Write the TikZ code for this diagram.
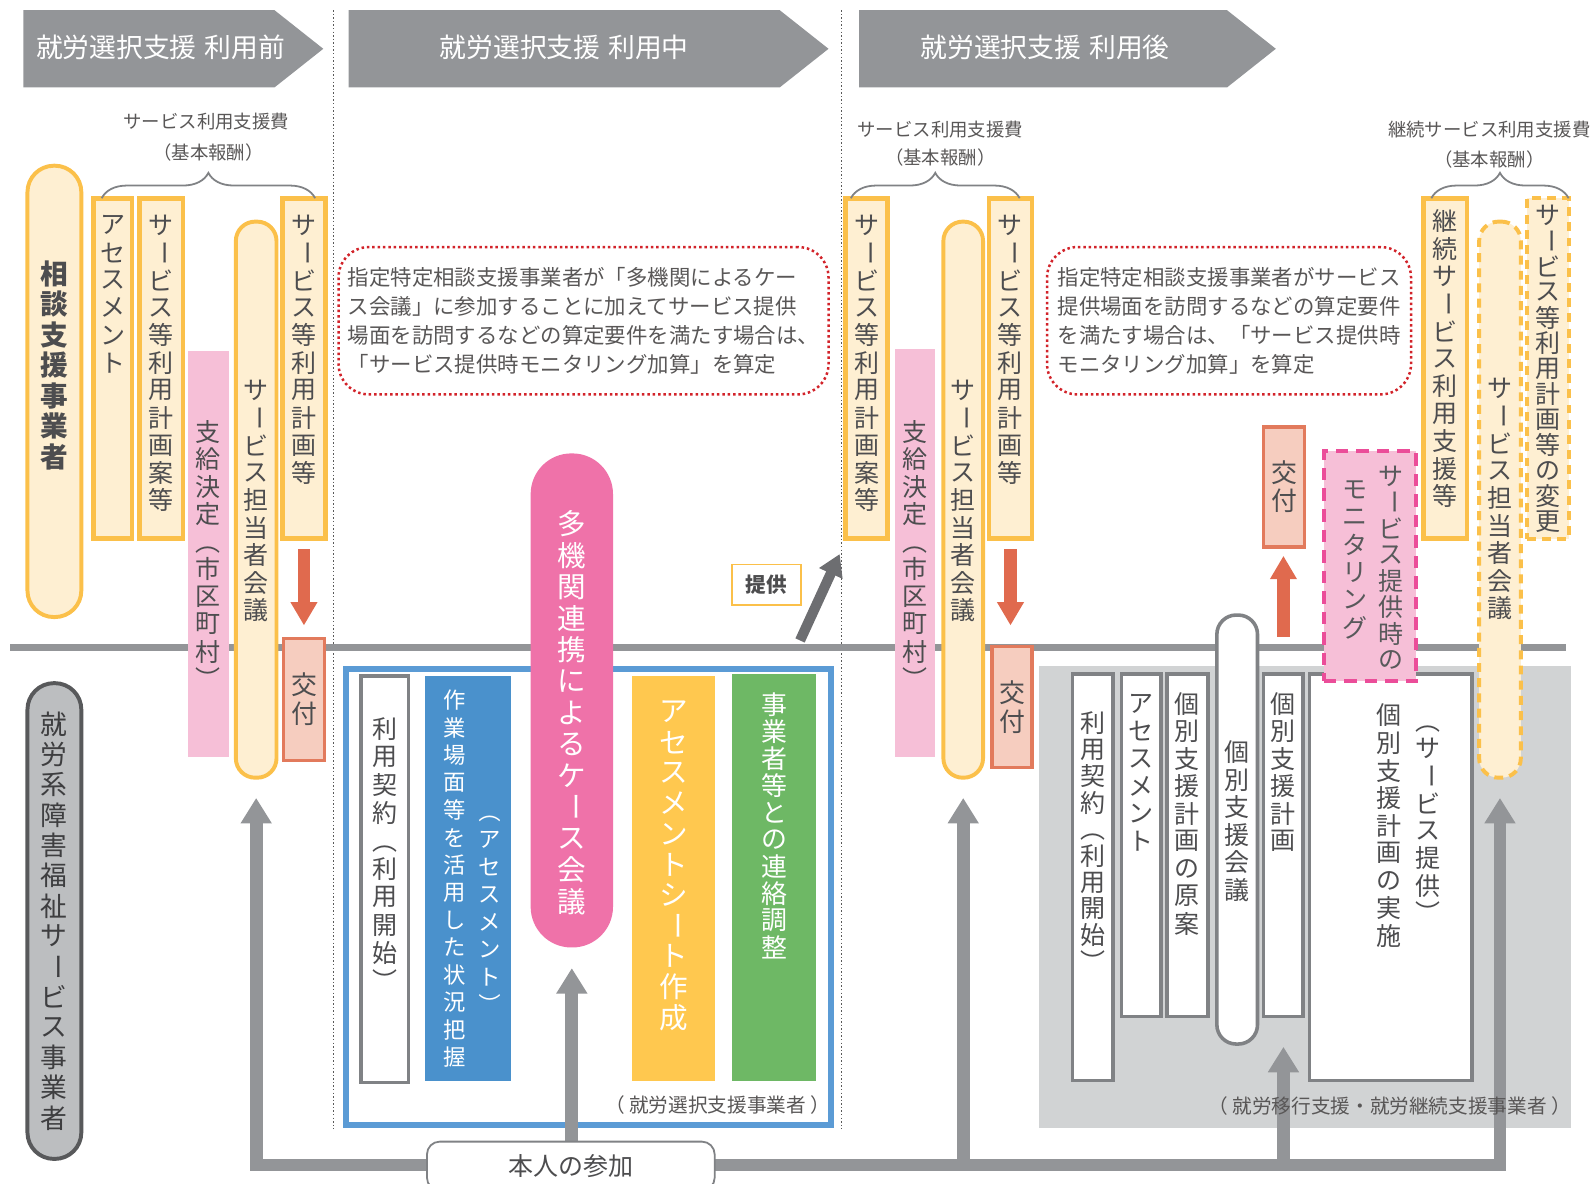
\documentclass[tikz,border=0pt]{standalone}
\usepackage{fontspec}
\setmainfont{Noto Sans CJK JP}
\usepackage{graphicx}
\usepackage{xcolor}
\usepackage{tikz}
\usetikzlibrary{positioning,arrows.meta,decorations.pathreplacing}

\definecolor{hdr}{HTML}{939598}
\definecolor{ylw}{HTML}{FBC04A}
\definecolor{crm}{HTML}{FEEFD2}
\definecolor{pnk}{HTML}{F6BFD7}
\definecolor{redar}{HTML}{E06A4E}
\definecolor{kofuF}{HTML}{F6CDBF}
\definecolor{kofuD}{HTML}{E27A5C}
\definecolor{txt}{HTML}{4D4D4F}
\definecolor{ntxt}{HTML}{595757}
\definecolor{blu}{HTML}{5B9BD5}
\definecolor{bluF}{HTML}{4A91CC}
\definecolor{ylwF}{HTML}{FFC84F}
\definecolor{grn}{HTML}{6EB865}
\definecolor{tak}{HTML}{EF72A9}
\definecolor{mag}{HTML}{EB4D99}
\definecolor{shade}{HTML}{D1D3D4}
\definecolor{gbd}{HTML}{808285}
\definecolor{dred}{HTML}{D2232A}
\definecolor{shuroF}{HTML}{BCBEC0}
\definecolor{shuroD}{HTML}{58595B}
\definecolor{dg}{HTML}{6D6E71}

\tikzset{gtip/.tip={Triangle[width=0.58cm,length=0.5cm]}}

% vertical (tate) text
\newlength\tatep
\newcommand\tate[2][1.1em]{\vbox{\offinterlineskip\setlength\tatep{#1}\tatel#2\relax}}
\def\tatel#1{\ifx\relax#1\else\tatec{#1}\expandafter\tatel\fi}
\def\tatec#1{\hbox to 1em{\hss\vbox to\tatep{\vss\hbox{\tates{#1}}\vss}\hss}}
\def\tates#1{\ifx#1ー\rotatebox[origin=c]{-90}{ー}\else\ifx#1（\rotatebox[origin=c]{-90}{（}\else\ifx#1）\rotatebox[origin=c]{-90}{）}\else#1\fi\fi\fi}

\begin{document}
\begin{tikzpicture}[x=0.02cm,y=-0.02cm,
	sz/.style 2 args={minimum width=#1*0.02cm,minimum height=#2*0.02cm,inner sep=0pt},
	obox/.style={draw=ylw,fill=crm,line width=2.6pt},
	opill/.style={draw=ylw,fill=crm,line width=2.2pt,rounded corners=#1},
	odash/.style={draw=ylw,fill=crm,line width=2.2pt,dash pattern=on 5pt off 3.5pt},
	wbox/.style={draw=gbd,fill=white,line width=2pt},
	kofu/.style={draw=kofuD,fill=kofuF,line width=2pt,text=txt,font=\fontsize{14.5}{16}\selectfont},
	vt/.style={inner sep=0pt,text=txt,font=\fontsize{14}{16}\selectfont},
	vtw/.style={inner sep=0pt,text=white,font=\fontsize{14}{16}\selectfont},
	hdrtxt/.style={inner sep=0pt,text=white,font=\fontsize{15}{16}\selectfont},
	brc/.style={draw=gbd,line width=1pt,decorate,decoration={brace,amplitude=0.5cm}},
	brctxt/.style={inner sep=0pt,text=ntxt,font=\fontsize{10.3}{12}\selectfont},
	dotbox/.style={draw=dred,line width=1.4pt,dash pattern=on 1.4pt off 1.6pt,rounded corners=0.6cm,align=left,text=ntxt,font=\fontsize{12}{16.2}\selectfont},
	redarr/.style={draw=redar,line width=0.24cm,-{Triangle[width=0.5cm,length=0.46cm]}},
	gline/.style={draw=hdr,line width=0.25cm},
	sepline/.style={draw=gray!70!black,line width=0.8pt,dash pattern=on 0.8pt off 1.2pt}]

	\useasboundingbox (0,0) rectangle (1568,1164);

	% stage headers
	\fill[hdr] (23,10) -- (270,10) -- (318,48) -- (270,86) -- (23,86) -- cycle;
	\node[hdrtxt] (hd1) at (158,47) {就労選択支援\hspace{.3em}利用前};
	\fill[hdr] (343,10) -- (767,10) -- (815,48) -- (767,86) -- (343,86) -- cycle;
	\node[hdrtxt] (hd2) at (555,47) {就労選択支援\hspace{.3em}利用中};
	\fill[hdr] (845,10) -- (1207,10) -- (1255,48) -- (1207,86) -- (845,86) -- cycle;
	\node[hdrtxt] (hd3) at (1028,47) {就労選択支援\hspace{.3em}利用後};

	\draw[sepline] (328,10) -- (328,1110);
	\draw[sepline] (828,10) -- (828,1110);

	% frames below the line
	\node[fill=shade,sz={523}{455}] (shd) at (1283.5,882.5) {};
	\node[draw=blu,line width=3.4pt,fill=white,sz={477}{449}] (bfr) at (578.5,882.5) {};
	\draw[draw=hdr,line width=0.14cm] (10,637) -- (1540,637);

	% before
	\node[opill=0.52cm,sz={53}{444}] (sodan) at (53.5,385) {};
	\node[vt,below=1.86cm of sodan.north,font=\fontsize{15.5}{16}\selectfont\bfseries] (sodant) {\tate[1.1em]{相談支援事業者}};
	\node[obox,sz={38}{335}] (asm1) at (111,362.5) {};
	\node[vt,below=0.3cm of asm1.north] (asm1t) {\tate{アセスメント}};
	\node[obox,sz={43}{335}] (draft1) at (158.5,362.5) {};
	\node[vt,below=0.3cm of draft1.north] (draft1t) {\tate{サービス等利用計画案等}};
	\node[fill=pnk,sz={40}{400}] (shikyu1) at (205,545) {};
	\node[vt,below=1.32cm of shikyu1.north] (shikyu1t) {\tate{支給決定（市区町村）}};
	\node[opill=0.38cm,sz={40}{547}] (tanto1) at (252,491.5) {};
	\node[vt,below=3.08cm of tanto1.north] (tanto1t) {\tate{サービス担当者会議}};
	\node[obox,sz={42}{335}] (plan1) at (299,362.5) {};
	\node[vt,below=0.3cm of plan1.north] (plan1t) {\tate{サービス等利用計画等}};
	\node[kofu,sz={40}{120}] (kofu1) at (299,688) {\tate{交付}};
	\draw[redarr,shorten <=0.16cm,shorten >=0.22cm] (plan1.south) -- (plan1.south |- kofu1.north);
	\draw[brc] (100,195) -- (310,195);
	\node[brctxt] (fee1) at (203,120) {サービス利用支援費};
	\node[brctxt] (base1) at (205,150) {（基本報酬）};

	\node[draw=shuroD,fill=shuroF,line width=2.2pt,rounded corners=0.52cm,sz={53}{468}] (shuro) at (53.5,906) {};
	\node[vt,font=\fontsize{15}{16}\selectfont,text=shuroD!70!black] (shurot) at (shuro.center) {\tate[1.13em]{就労系障害福祉サービス事業者}};

	% during
	\node[dotbox,sz={482}{145}] (note1) at (574,315.5) {指定特定相談支援事業者が「多機関によるケー\\ス会議」に参加することに加えてサービス提供\\場面を訪問するなどの算定要件を満たす場合は、\\「サービス提供時モニタリング加算」を算定};
	\node[wbox,sz={47}{400}] (keiyaku1) at (378.5,865) {};
	\node[vt,below=0.8cm of keiyaku1.north] (keiyaku1t) {\tate[1.12em]{利用契約（利用開始）}};
	\node[fill=bluF,sz={85}{398}] (blk1) at (460.5,864) {};
	\node[vtw,anchor=north,font=\fontsize{12.5}{14}\selectfont] (blk1a) at (447,675) {\tate[1.23em]{作業場面等を活用した状況把握}};
	\node[vtw,anchor=north,font=\fontsize{12.5}{14}\selectfont] (blk1b) at (482,785) {\tate[1.23em]{（アセスメント）}};
	\node[fill=ylwF,sz={81}{398}] (blk2) at (662.5,864) {};
	\node[vtw,below=0.4cm of blk2.north,font=\fontsize{16}{17}\selectfont] (blk2t) {\tate[1.07em]{アセスメントシート作成}};
	\node[fill=grn,sz={83}{400}] (blk3) at (761.5,863) {};
	\node[vtw,below=0.34cm of blk3.north,font=\fontsize{14.5}{16}\selectfont] (blk3t) {\tate[1.04em]{事業者等との連絡調整}};
	\node[fill=tak,rounded corners=0.8cm,sz={81}{486}] (tak) at (562.5,689) {};
	\node[vtw,below=1.08cm of tak.north,font=\fontsize{16}{17}\selectfont] (takt) {\tate[1.1em]{多機関連携によるケース会議}};
	\node[draw=ylw,line width=0.8pt,fill=white,sz={68}{40},text=txt,font=\fontsize{11.5}{12}\selectfont\bfseries] (teikyo) at (754,575) {提供};
	\coordinate (dg0) at (787,630);
	\coordinate (dg1) at (826,545);
	\draw[draw=dg,line width=0.2cm,-{Triangle[width=0.48cm,length=0.42cm]}] (dg0) -- (dg1);

	% after
	\node[obox,sz={41}{335}] (draft2) at (852.5,362.5) {};
	\node[vt,below=0.3cm of draft2.north] (draft2t) {\tate{サービス等利用計画案等}};
	\node[fill=pnk,sz={40}{402}] (shikyu2) at (900,544) {};
	\node[vt,below=1.36cm of shikyu2.north] (shikyu2t) {\tate{支給決定（市区町村）}};
	\node[opill=0.38cm,sz={39}{547}] (tanto2) at (947.5,491.5) {};
	\node[vt,below=3.08cm of tanto2.north] (tanto2t) {\tate{サービス担当者会議}};
	\node[obox,sz={42}{335}] (plan2) at (994,362.5) {};
	\node[vt,below=0.3cm of plan2.north] (plan2t) {\tate{サービス等利用計画等}};
	\node[kofu,sz={39}{119}] (kofu2) at (995.5,695.5) {\tate{交付}};
	\draw[redarr,shorten <=0.16cm,shorten >=0.38cm] (plan2.south) -- (plan2.south |- kofu2.north);
	\draw[brc] (837,195) -- (1003,195);
	\node[brctxt] (fee2) at (925,127) {サービス利用支援費};
	\node[brctxt] (base2) at (925,155) {（基本報酬）};
	\node[dotbox,sz={358}{145}] (note2) at (1209,315.5) {指定特定相談支援事業者がサービス\\提供場面を訪問するなどの算定要件\\を満たす場合は、「サービス提供時\\モニタリング加算」を算定};

	\node[wbox,sz={40}{400}] (keiyaku2) at (1075,863) {};
	\node[vt,below=0.74cm of keiyaku2.north] (keiyaku2t) {\tate[1.06em]{利用契約（利用開始）}};
	\node[wbox,sz={39}{337}] (asm2) at (1122.5,831.5) {};
	\node[vt,below=0.34cm of asm2.north] (asm2t) {\tate{アセスメント}};
	\node[wbox,sz={40}{337}] (draft3) at (1168,831.5) {};
	\node[vt,below=0.34cm of draft3.north] (draft3t) {\tate{個別支援計画の原案}};
	\node[wbox,rounded corners=0.38cm,sz={40}{422}] (kaigi) at (1217,816) {};
	\node[vt,below=2.46cm of kaigi.north] (kaigit) {\tate{個別支援会議}};
	\node[wbox,sz={39}{337}] (kplan) at (1262.5,831.5) {};
	\node[vt,below=0.34cm of kplan.north] (kplant) {\tate{個別支援計画}};
	\node[kofu,sz={40}{118}] (kofu3) at (1263,479) {\tate{交付}};
	\draw[redarr,shorten <=0.7cm,shorten >=0.14cm] (kplan.north) -- (kplan.north |- kofu3.south);
	\node[wbox,sz={160}{400}] (jisshi) at (1368,863) {};
	\node[vt,anchor=north] (jisshia) at (1405,695) {\tate{（サービス提供）}};
	\node[vt,anchor=north] (jisshib) at (1366,690) {\tate{個別支援計画の実施}};
	\node[draw=mag,fill=pnk,line width=2.3pt,dash pattern=on 7pt off 4.5pt,sz={91}{226}] (mon) at (1347.5,557) {};
	\node[vt,anchor=north,text=shuroD] (mona) at (1368,455) {\tate[1.05em]{サービス提供時の}};
	\node[vt,anchor=north,text=shuroD] (monb) at (1333,468) {\tate[1.1em]{モニタリング}};

	\node[obox,sz={43}{335}] (keizoku) at (1421.5,362.5) {};
	\node[vt,below=0.22cm of keizoku.north] (keizokut) {\tate{継続サービス利用支援等}};
	\node[odash,rounded corners=0.38cm,sz={41}{547}] (tanto3) at (1475.5,491.5) {};
	\node[vt,below=3.04cm of tanto3.north] (tanto3t) {\tate{サービス担当者会議}};
	\node[odash,sz={41}{335}] (henko) at (1522.5,362.5) {};
	\node[vt,below=0.12cm of henko.north] (henkot) {\tate[1.02em]{サービス等利用計画等の変更}};
	\draw[brc] (1408,195) -- (1543,195);
	\node[brctxt] (fee3) at (1465,127) {継続サービス利用支援費};
	\node[brctxt] (base3) at (1465,157) {（基本報酬）};

	% participation loop
	\coordinate (lp) at (253,1146);
	\draw[gline,gtip-gtip,shorten <=0.36cm,shorten >=0.36cm,line join=miter] (tanto1.south) -- (tanto1.south |- lp) -- (tanto3.south |- lp) -- (tanto3.south);
	\draw[gline,-gtip,shorten >=0.4cm] (tak.south |- lp) -- (tak.south);
	\draw[gline,-gtip,shorten >=0.36cm] (tanto2.south |- lp) -- (tanto2.south);
	\draw[gline,-gtip,shorten >=0.56cm] (kplan.south |- lp) -- (kplan.south);
	\node[draw=gbd,line width=1pt,rounded corners=0.25cm,fill=white,sz={283}{48},text=txt,font=\fontsize{14}{16}\selectfont] (honin) at (561.5,1147) {本人の参加};

	% provider labels
	\node[brctxt,font=\fontsize{11}{12}\selectfont] (lb1) at (706,1087) {（ 就労選択支援事業者 ）};
	\node[brctxt,font=\fontsize{11}{12}\selectfont] (lb2) at (1367,1088) {（ 就労移行支援・就労継続支援事業者 ）};
\end{tikzpicture}
\end{document}
